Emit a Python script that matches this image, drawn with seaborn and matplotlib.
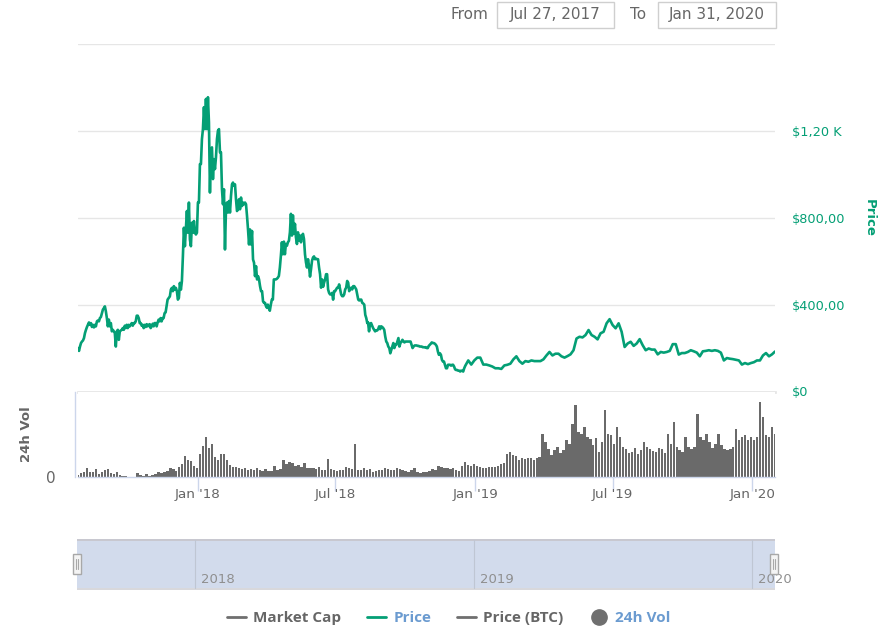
import matplotlib
matplotlib.use("Agg")
import matplotlib.pyplot as plt
import matplotlib.dates as mdates
from matplotlib.lines import Line2D
from matplotlib.patches import Rectangle
import numpy as np
import pandas as pd
import seaborn as sns

START_DATE = "2017-07-27"
END_DATE = "2020-01-31"
segment_starts = [START_DATE, "2017-11-25", "2018-04-03", "2018-08-13", "2018-12-23"]
segment_ends = ["2017-11-22", "2018-04-02", "2018-08-12", "2018-12-19", END_DATE]

price_rise = [200,187,207,223,230,235,246,269,284,297,307,318,307,315,297,307,295,307,300,323,327,323,338,343,361,377,384,392,369,338,300,331,300,315,277,284,277,269,207,277,284,238,277,281,284,292,284,303,292,307,292,307,300,307,315,303,315,315,323,349,349,338,315,315,303,307,292,307,297,310,300,307,310,292,300,312,300,315,315,300,318,331,323,338,323,338,338,361,364,392,423]

price_peak = [438,469,477,462,485,469,477,462,423,431,500,469,508,623,754,669,746,831,731,870,700,669,777,731,785,731,723,731,870,870,1047,1047,1162,1208,1309,1208,1347,1208,1355,1239,916,1116,1124,978,1070,1024,1078,1162,1201,1208,1101,1101,931,862,931,654,839,870,824,877,824,900,954,962,947,954,885,831,839,885,839,893,854,870,862,870,862,808,746,677,746,677,739,608,593,531,577,516,531,516,485,462,462,415,408,408,392,385]

price_spring = [400,384,372,400,423,423,516,516,516,519,524,532,571,625,687,632,690,632,679,671,687,694,733,818,718,811,726,772,710,679,733,694,718,687,718,726,702,632,594,571,609,578,529,563,602,617,622,609,612,609,609,571,540,478,516,482,501,516,540,540,470,454,447,447,454,423,462,462,470,478,478,493,470,447,439,439,447,470,478,509,501,462,470,478,470,485,485,478,470,447,423,419,423,423,408,405,400,353,338,315]

price_fall = [318,277,312,315,303,292,284,277,281,281,287,300,287,300,297,292,284,253,230,223,207,200,176,192,207,223,200,215,215,230,246,207,223,230,238,230,226,230,230,230,230,230,230,215,200,207,212,212,212,210,210,207,207,207,204,204,203,204,200,200,210,215,220,226,223,223,220,215,207,184,169,176,169,146,138,138,123,107,107,123,123,123,119,123,123,115,102,99,99,96,96,92,96,95,92,107,118]

price_late = [143,124,143,156,156,124,124,120,115,107,107,104,120,123,128,148,162,140,128,140,137,143,140,140,140,148,166,182,166,174,174,162,156,163,171,190,244,252,249,260,283,260,252,240,268,275,314,333,306,291,314,275,205,221,229,210,221,241,213,190,198,193,193,171,182,179,182,187,218,218,170,177,177,182,190,185,179,162,185,187,190,187,190,187,179,143,154,151,149,146,143,124,131,126,131,135,143,143,166,177,162,171,184]

volume = [6,12,16,28,14,14,24,10,14,20,24,12,10,16,6,4,3,0,0,0,12,6,3,8,2,6,9,16,12,14,18,26,24,18,30,38,62,50,48,32,28,70,92,120,88,100,60,52,68,70,52,35,30,30,26,24,26,22,24,20,28,22,18,24,18,18,34,22,24,50,38,46,42,34,36,30,42,28,26,28,24,30,22,20,54,24,20,18,20,20,30,26,24,100,20,22,26,22,24,16,18,20,22,28,24,22,22,26,
24,20,18,16,22,26,16,12,14,16,18,24,20,34,30,26,28,24,26,20,18,34,44,36,34,40,32,30,28,28,30,30,30,32,40,42,68,76,66,62,50,58,54,56,56,52,56,60,130,105,85,66,80,90,72,80,110,100,160,215,135,130,150,120,115,95,118,75,105,200,130,125,100,150,120,90,85,72,75,88,70,80,105,90,85,78,75,88,85,72,130,100,165,90,80,75,120,90,85,90,190,120,110,130,105,88,100,130,95,85,80,85,90,145,110,120,125,110,120,110,120,225,180,125,120,150,128]

price_ticks = [0, 400, 800, 1200, 1600]
price_tick_labels = ["$0", "$400,00", "$800,00", "$1,20 K", ""]
date_tick_values = ["2018-01-01", "2018-07-01", "2019-01-01", "2019-07-01", "2020-01-01"]
date_tick_labels = ["Jan '18", "Jul '18", "Jan '19", "Jul '19", "Jan '20"]
nav_years = ["2018", "2019", "2020"]
legend_labels = ["Market Cap", "Price", "Price (BTC)", "24h Vol"]

W, H = 891, 635
GREEN = "#049f75"
GRAY_TXT = "#666666"
AXIS_BLUE = "#ccd6eb"
GRID = "#e6e6e6"
FONT = "DejaVu Sans"

sns.set_theme(style="white", rc={"font.family": FONT})
fig = plt.figure(figsize=(W / 100, H / 100), dpi=100, facecolor="white")


def px_axes(x0, y0, x1, y1, **kw):
    return fig.add_axes([x0 / W, 1 - y1 / H, (x1 - x0) / W, (y1 - y0) / H], **kw)


t0, t1 = pd.Timestamp(START_DATE), pd.Timestamp(END_DATE)
xlim = (mdates.date2num(t0), mdates.date2num(t1))

# ---------- price panel ----------
ax = px_axes(78, 44, 775, 391.5)
segments = [price_rise, price_peak, price_spring, price_fall, price_late]
price_df = pd.concat(
    [pd.DataFrame({"date": pd.date_range(a, b, periods=len(s)), "price": s})
     for a, b, s in zip(segment_starts, segment_ends, segments)],
    ignore_index=True,
)
sns.lineplot(data=price_df, x="date", y="price", color=GREEN, linewidth=1.9, errorbar=None, ax=ax, zorder=3)
ax.set_xlim(*xlim)
ax.set_ylim(0, 1600)
ax.set_yticks(price_ticks)
ax.set_yticklabels(price_tick_labels, fontsize=9.3)
ax.yaxis.tick_right()
ax.tick_params(axis="y", length=0, pad=12, labelcolor=GREEN)
ax.set_xticks([])
ax.set_xlabel("")
ax.set_ylabel("")
ax.grid(axis="y", color=GRID, linewidth=1)
for side in ("left", "right", "top"):
    ax.spines[side].set_visible(False)
ax.spines["bottom"].set_color(GRID)
ax.spines["bottom"].set_linewidth(2)
fig.text(869 / W, 1 - 218 / H, "Price", rotation=270, color=GREEN, fontsize=9.5,
         fontweight="bold", ha="center", va="center")

# ---------- volume panel ----------
vax = px_axes(78, 392, 775, 477)
vol_num = mdates.date2num(pd.date_range(t0, t1, periods=len(volume)))
sns.barplot(x=vol_num, y=volume, native_scale=True, color="#6a6a6a", saturation=1,
            width=0.8, errorbar=None, ax=vax, linewidth=0, edgecolor="#6a6a6a")
vax.set_xlim(*xlim)
vax.set_ylim(0, 255)
vax.xaxis_date()
vax.set_xticks(mdates.date2num(pd.to_datetime(date_tick_values)))
vax.set_xticklabels(date_tick_labels, fontsize=9.7)
vax.tick_params(axis="x", length=10, width=1, color=AXIS_BLUE, pad=-2, bottom=True, labelcolor=GRAY_TXT)
vax.set_yticks([0])
vax.set_yticklabels(["0"], fontsize=9.3)
vax.tick_params(axis="y", length=0, pad=14, labelcolor=GRAY_TXT)
vax.set_xlabel("")
vax.set_ylabel("")
for side in ("right", "top"):
    vax.spines[side].set_visible(False)
vax.spines["bottom"].set_color(AXIS_BLUE)
vax.spines["bottom"].set_linewidth(1)
vax.spines["left"].set_color(AXIS_BLUE)
vax.spines["left"].set_linewidth(1)
vax.spines["left"].set_position(("outward", 2))
fig.text(27 / W, 1 - 434 / H, "24h Vol", rotation=90, color=GRAY_TXT, fontsize=9.5,
         fontweight="bold", ha="center", va="center")


def px_rect(x0, y0, x1, y1, **kw):
    fig.add_artist(Rectangle((x0 / W, 1 - y1 / H), (x1 - x0) / W, (y1 - y0) / H,
                             transform=fig.transFigure, **kw))


# ---------- navigator ----------
px_rect(77, 539.5, 775, 589, facecolor="#d2dbec", edgecolor="none", zorder=-1)
px_rect(77, 539, 775, 541, facecolor="#c8c8d0", edgecolor="none", zorder=-1)
px_rect(77, 588, 775, 589.5, facecolor="#d8d8dc", edgecolor="none", zorder=-1)
nav = px_axes(75, 539.5, 775, 589)
nav.patch.set_visible(False)
nav.set_xlim(*xlim)
nav.set_ylim(0, 1)
nav.set_yticks([])
nav.set_xticks([])
for side in nav.spines:
    nav.spines[side].set_visible(False)
for yr in nav_years:
    n = mdates.date2num(pd.Timestamp(f"{yr}-01-01"))
    nav.axvline(n, color="#bfc6d3", linewidth=0.8)
    nav.annotate(yr, (n, 0), xytext=(4.3, 2), textcoords="offset points", color="#8f8f8f",
                 fontsize=9.5, ha="left", va="bottom", annotation_clip=False)

for hx in (76.5, 774):
    px_rect(hx - 4, 554, hx + 4, 574, facecolor="#f4f4f4", edgecolor="#a8a8a8", linewidth=1)
    for dx in (-1, 1):
        fig.add_artist(Line2D([(hx + dx) / W] * 2, [1 - 559 / H, 1 - 569 / H],
                              color="#a8a8a8", linewidth=0.8, transform=fig.transFigure))

# ---------- range selector ----------
for x0, x1, lab in ((497, 614, "Jul 27, 2017"), (658, 776, "Jan 31, 2020")):
    px_rect(x0, 1.5, x1, 27.5, facecolor="white", edgecolor="#cfcfcf", linewidth=1)
    fig.text((x0 + x1) / 2 / W, 1 - 14.5 / H, lab, color=GRAY_TXT, fontsize=11,
             ha="center", va="center")
fig.text(450 / W, 1 - 14.5 / H, "From", color=GRAY_TXT, fontsize=11, ha="left", va="center")
fig.text(630 / W, 1 - 14.5 / H, "To", color=GRAY_TXT, fontsize=11, ha="left", va="center")

# ---------- legend ----------
handles = [
    Line2D([], [], color="#6f6f6f", linewidth=2),
    Line2D([], [], color=GREEN, linewidth=2),
    Line2D([], [], color="#6f6f6f", linewidth=2),
    Line2D([], [], color="#6f6f6f", linestyle="none", marker="o", markersize=11),
]
leg = fig.legend(handles, legend_labels, loc="center", bbox_to_anchor=(449 / W, 1 - 618 / H),
                 ncol=4, frameon=False, handlelength=1.25, handletextpad=0.45, columnspacing=1.7,
                 prop={"family": "Open Sans", "weight": "bold", "size": 11},
                 labelcolor=[GRAY_TXT, "#6b9bd0", GRAY_TXT, "#6b9bd0"])

fig.savefig("out.png", dpi=100, facecolor="white")
